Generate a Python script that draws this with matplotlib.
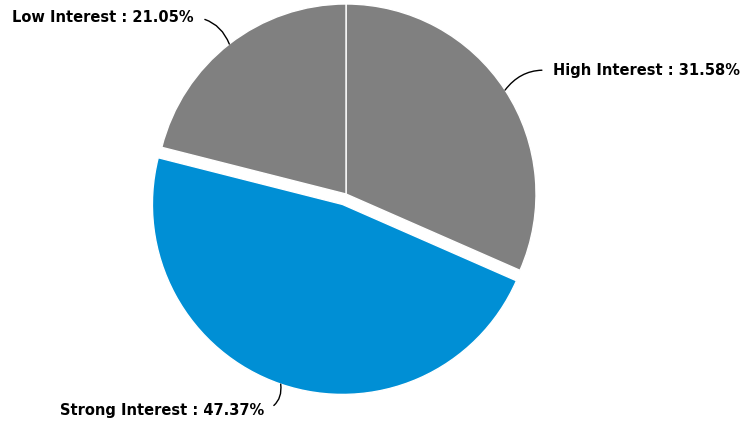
import matplotlib
matplotlib.use("Agg")
import matplotlib.pyplot as plt
import numpy as np

labels = ["High Interest", "Strong Interest", "Low Interest"]
values = [31.58, 47.37, 21.05]
colors = ["#808080", "#008fd5", "#808080"]
explode = [0, 0.058, 0]

W, H = 744, 430
fig = plt.figure(figsize=(W/100, H/100), dpi=100)
cx, cy, r = 346, 194, 190
L = 1.25
ax = fig.add_axes([(cx - L*r)/W, (H - cy - L*r)/H, 2*L*r/W, 2*L*r/H])
ax.axis("off")

wedges, _ = ax.pie(values, colors=colors, explode=explode, startangle=90,
                   counterclock=False, radius=1,
                   wedgeprops=dict(edgecolor="white", linewidth=1))
ax.set_xlim(-L, L)
ax.set_ylim(-L, L)

def px(x, y):
    return ((x - cx)/r, (cy - y)/r)

# label anchor positions (pixels) and connector curvature
text_pos = [(553, 71, "left", 0.3), (264, 411, "right", 0.4), (194, 17, "right", -0.3)]

for w, lab, v, ex, (tx, ty, ha, rad) in zip(wedges, labels, values, explode, text_pos):
    mid = np.deg2rad((w.theta1 + w.theta2) / 2)
    ox, oy = w.center
    xy = (ox + np.cos(mid), oy + np.sin(mid))
    ax.annotate(f"{lab} : {v:.2f}%", xy=xy, xytext=px(tx, ty), ha=ha, va="center",
                fontsize=10.5, fontweight="bold", family="DejaVu Sans",
                arrowprops=dict(arrowstyle="-", color="black", lw=1,
                                relpos=(0 if ha == "left" else 1, 0.5),
                                connectionstyle=f"arc3,rad={rad}", shrinkA=6, shrinkB=0))

fig.savefig("out.png", dpi=100)
